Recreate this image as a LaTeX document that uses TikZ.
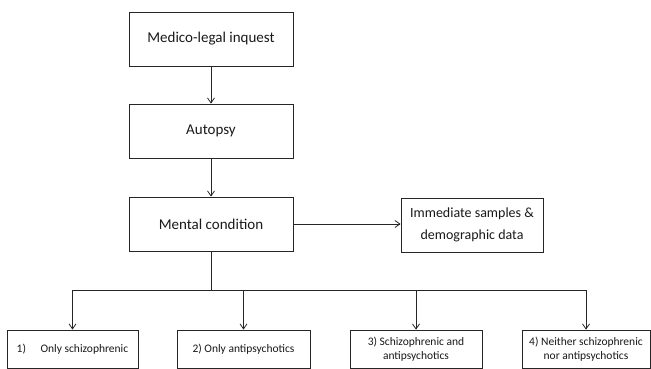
\documentclass[tikz,border=0pt]{standalone}
\usepackage{fontspec}
\setmainfont{Carlito}
\usetikzlibrary{arrows.meta}
\begin{document}
\begin{tikzpicture}[x=1pt,y=-1pt,
  box/.style={draw=black!85, line width=0.8pt, inner sep=0pt, align=center, text=black!90},
  bigbox/.style={box, minimum width=164pt, minimum height=54pt, font=\fontsize{15}{18}\selectfont},
  smallbox/.style={box, minimum height=38pt, font=\fontsize{11.5}{14}\selectfont},
  arr/.style={-{Straight Barb[length=5pt,width=7pt]}, line width=0.8pt, draw=black!85},
  conn/.style={line width=0.8pt, draw=black!85}]
\useasboundingbox (0,0) rectangle (651,369);
\node[bigbox] (inq) at (211,39) {Medico-legal inquest};
\node[bigbox] (aut) at (211,131) {Autopsy};
\node[bigbox] (men) at (211,224) {Mental condition};
\node[box, minimum width=142pt, minimum height=54pt, font=\fontsize{14}{22}\selectfont] (imm) at (472,225) {Immediate samples \&\\demographic data};
\node[smallbox, minimum width=131pt] (g1) at (72.5,349) {1)\hspace{14.5pt}Only schizophrenic};
\node[smallbox, minimum width=133pt] (g2) at (243.5,349) {2) Only antipsychotics};
\node[smallbox, minimum width=132pt] (g3) at (416,349) {3) Schizophrenic and\\antipsychotics};
\node[smallbox, minimum width=128pt] (g4) at (586,349) {4) Neither schizophrenic\\nor antipsychotics};
\coordinate (bus) at (211,290);
\draw[arr] (inq) -- (aut);
\draw[arr] (aut) -- (men);
\draw[arr] (men.east) -- (imm.west |- men.east);
\draw[conn] (men.south) -- (bus);
\draw[conn] (g1.north |- bus) -- (g4.north |- bus);
\foreach \g in {g1,g2,g3,g4} \draw[arr] (\g.north |- bus) -- (\g.north);
\end{tikzpicture}
\end{document}
